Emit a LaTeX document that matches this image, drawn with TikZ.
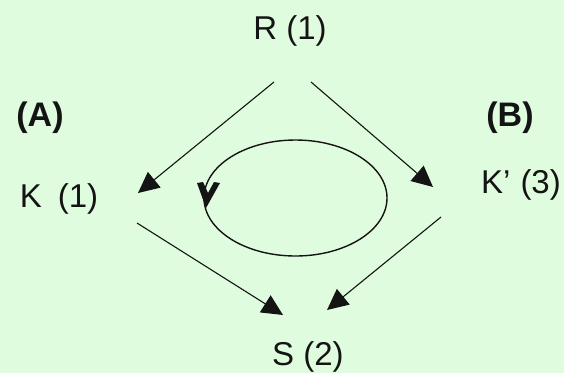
\documentclass[tikz,border=0pt]{standalone}
\usepackage{fontspec}
\setmainfont{Liberation Sans}
\usetikzlibrary{arrows.meta}
\definecolor{bg}{HTML}{E0FCDE}
\definecolor{ink}{HTML}{141414}
\begin{document}
\begin{tikzpicture}[x=1pt,y=-1pt,
  lbl/.style={inner sep=0pt, text=ink, font=\fontsize{33}{38}\selectfont, anchor=base},
  blbl/.style={inner sep=0pt, text=ink, font=\fontsize{34}{40}\selectfont\bfseries, anchor=base},
  conn/.style={draw=ink, line width=1.1pt, -{Triangle[length=21pt,width=20pt]}},
  loopline/.style={draw=ink, line width=1.4pt},
]
\fill[bg] (0,0) rectangle (564,373);
\useasboundingbox (0,0) rectangle (564,373);

% labels
\node[lbl] (R) at (290,39) {R (1)};
\node[lbl] (K) at (59,207) {K\hspace{16pt}(1)};
\node[lbl] (Kp) at (521,193) {K’\hspace{10pt}(3)};
\node[lbl] (S) at (308,365) {S (2)};
\node[blbl] (A) at (40,126) {(A)};
\node[blbl] (B) at (510,126) {(B)};

% connector ends
\coordinate (Rl) at (274,82);
\coordinate (Rr) at (311,82);
\coordinate (Kin) at (138,193);
\coordinate (Kpin) at (433,187);
\coordinate (Kout) at (137,223);
\coordinate (Kpout) at (441,217);
\coordinate (Sl) at (283,315);
\coordinate (Sr) at (327,310);
\coordinate (C) at (295.5,198);
\coordinate (Ltip) at (206,208);

\draw[conn] (Rl) -- (Kin);
\draw[conn] (Rr) -- (Kpin);
\draw[conn] (Kout) -- (Sl);
\draw[conn] (Kpout) -- (Sr);

% cycle
\draw[loopline] (C) ellipse [x radius=91.5pt, y radius=58pt];
\fill[ink] (Ltip) -- ++(-9,-25) -- ++(6,-1) -- ++(5,11) -- ++(6,-11) -- ++(6,1) -- cycle;
\end{tikzpicture}
\end{document}
